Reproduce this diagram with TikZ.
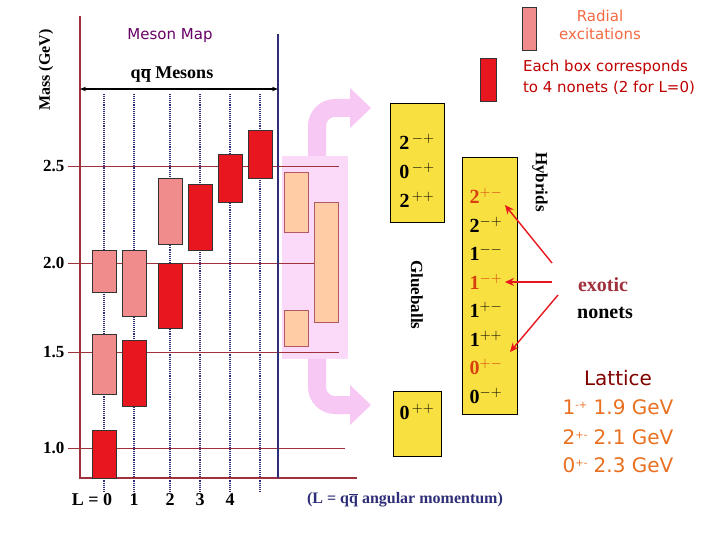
\documentclass[tikz,border=0pt]{standalone}
\usepackage{fontspec}
\setmainfont{Liberation Serif}
\newfontfamily\comic{DejaVu Sans}
\usetikzlibrary{arrows.meta}
\definecolor{lred}{HTML}{F08C8C}
\definecolor{dred}{HTML}{E8161E}
\definecolor{grid}{HTML}{A0303C}
\definecolor{navy}{HTML}{2E2E78}
\definecolor{bandpink}{HTML}{FADAF8}
\definecolor{arrpink}{HTML}{F8C8F4}
\definecolor{peach}{HTML}{FFCCA6}
\definecolor{yel}{HTML}{F8E040}
\definecolor{exo}{HTML}{D84010}
\definecolor{lat}{HTML}{E87020}
\tikzset{
 lbox/.style={draw=black!80,fill=lred,line width=0.7pt},
 rbox/.style={draw=black!80,fill=dred,line width=0.7pt},
 pbox/.style={draw=grid!80,fill=peach,line width=0.7pt},
 ybox/.style={draw=black,fill=yel,line width=0.7pt},
 gline/.style={grid,line width=0.8pt},
 dline/.style={navy,densely dotted,line width=1.1pt},
 axl/.style={font=\bfseries\fontsize{17}{17}\selectfont},
 jpc/.style={font=\bfseries\fontsize{20}{20}\selectfont},
 parr/.style={arrpink,line width=18pt,rounded corners=18pt},
 rarr/.style={dred,line width=1.4pt,-{Stealth[length=9pt,width=8pt]}},
}
\begin{document}
\begin{tikzpicture}[x=1pt,y=-1pt]
\useasboundingbox (0,0) rectangle (720,540);
% pink arrows and band
\draw[parr] (317,160) -- (317,108) -- (352,108);
\fill[arrpink] (350,88) -- (371,108) -- (350,128) -- cycle;
\draw[parr] (317,355) -- (317,405) -- (352,405);
\fill[arrpink] (350,385) -- (371,405) -- (350,425) -- cycle;
\fill[bandpink] (282,156) rectangle (348,359);
% dotted columns
\foreach \x/\n in {104/a,134/b,170/c,200/d,230/e,260/f}
  \draw[dline] (\x,94) coordinate (t\n) -- (\x,492) coordinate (b\n);
% grid lines
\foreach \y/\l/\e in {166/2.5/339,263/2.0/339,352/1.5/339,448/1.0/345}{
  \draw[gline] (68,\y) -- (\e,\y);
  \node[axl,anchor=east] at (68,\y) {\l};
}
% frame
\draw[grid,line width=1.5pt] (80,16) -- (80,478) -- (357,478);
\draw[navy,line width=1.5pt] (278,34) -- (278,478);
% boxes
\draw[lbox] (92,250) rectangle (116,292);
\draw[lbox] (92,334) rectangle (116,394);
\draw[rbox] (92,430) rectangle (116,478);
\draw[lbox] (122,250) rectangle (146,316);
\draw[rbox] (122,340) rectangle (146,406);
\draw[lbox] (158,178) rectangle (182,244);
\draw[rbox] (158,263) rectangle (182,328);
\draw[rbox] (188,184) rectangle (212,250);
\draw[rbox] (218,154) rectangle (242,202);
\draw[rbox] (248,130) rectangle (272,178);
\draw[pbox] (284,172) rectangle (308,232);
\draw[pbox] (314,202) rectangle (338,322);
\draw[pbox] (284,310) rectangle (308,346);
% titles
\node[text=violet!80!black,font=\comic\fontsize{15}{15}\selectfont] (mm) at (170,36) {Meson Map};
\node[rotate=90,font=\bfseries\fontsize{16}{16}\selectfont] (mass) at (46,70) {Mass (GeV)};
\coordinate (al) at (80,89); \coordinate (ar) at (278,89);
\draw[line width=1.5pt,{Stealth[length=6pt]}-{Stealth[length=6pt]}] (al) -- (ar);
\node[font=\bfseries\fontsize{18}{18}\selectfont] (qq) at (172,75) {q$\overline{\hbox{q}}$ Mesons};
% glueballs
\node[ybox,minimum width=54pt,minimum height=119pt] (g1) at (417,162.5) {};
\node[jpc] at (417,142) {2$^{\,-+}$};
\node[jpc] at (417,171) {0$^{\,-+}$};
\node[jpc] at (417,200) {2$^{\,++}$};
\node[ybox,minimum width=48pt,minimum height=65pt] (g2) at (417,423.5) {};
\node[jpc] at (417,412) {0$^{\,++}$};
\node[rotate=-90,font=\bfseries\fontsize{17}{17}\selectfont] (gl) at (417,295) {Glueballs};
% hybrids
\node[ybox,minimum width=55pt,minimum height=257pt] (hy) at (489.5,285.5) {};
\foreach \y/\t/\c in {196/2$^{+-}$/exo,225/2$^{-+}$/black,253/1$^{--}$/black,282/1$^{-+}$/exo,310/1$^{+-}$/black,339/1$^{++}$/black,367/0$^{+-}$/exo,396/0$^{-+}$/black}
  \node[jpc,text=\c] at (486,\y) {\t};
\node[rotate=-90,font=\bfseries\fontsize{17}{17}\selectfont] (hl) at (540,182) {Hybrids};
% exotic arrows
\coordinate (e1) at (552,263); \coordinate (e2) at (552,282); \coordinate (e3) at (558,295);
\coordinate (h1) at (505,205); \coordinate (h2) at (505,282); \coordinate (h3) at (510,352);
\draw[rarr] (e1) -- (h1);
\draw[rarr] (e2) -- (h2);
\draw[rarr] (e3) -- (h3);
\node[text=grid,font=\bfseries\fontsize{20}{20}\selectfont] (ex) at (603,285) {exotic};
\node[font=\bfseries\fontsize{20}{20}\selectfont] (no) at (605,313) {nonets};
% lattice
\node[text=red!50!black,font=\comic\fontsize{20}{20}\selectfont] (la) at (618,378) {Lattice};
\foreach \y/\a/\b/\v in {407/1/{-+}/1.9,437/2/{+-}/2.1,465/0/{+-}/2.3}
  \node[text=lat,font=\comic\fontsize{20}{20}\selectfont] at (618,\y) {\a\raisebox{6pt}{\fontsize{10}{10}\selectfont\b} \v\ GeV};
% legend
\draw[lbox] (522,7) rectangle (536,50);
\node[text=lat!60!red!80,font=\comic\fontsize{15}{18}\selectfont,align=center] (rad) at (600,25) {Radial\\excitations};
\draw[rbox] (480,58) rectangle (496,101);
\node[text=red!75!black,font=\comic\fontsize{15}{21}\selectfont,align=left] (eb) at (609,77) {Each box corresponds\\to 4 nonets (2 for L=0)};
% bottom labels
\node[font=\bfseries\fontsize{18}{18}\selectfont] at (92,500) {L = 0};
\foreach \x/\t in {134/1,170/2,200/3,230/4}
  \node[font=\bfseries\fontsize{18}{18}\selectfont] at (\x,500) {\t};
\node[text=navy,font=\bfseries\fontsize{16}{16}\selectfont] (am) at (405,500) {(L = q$\overline{\hbox{q}}$ angular momentum)};
\end{tikzpicture}
\end{document}
